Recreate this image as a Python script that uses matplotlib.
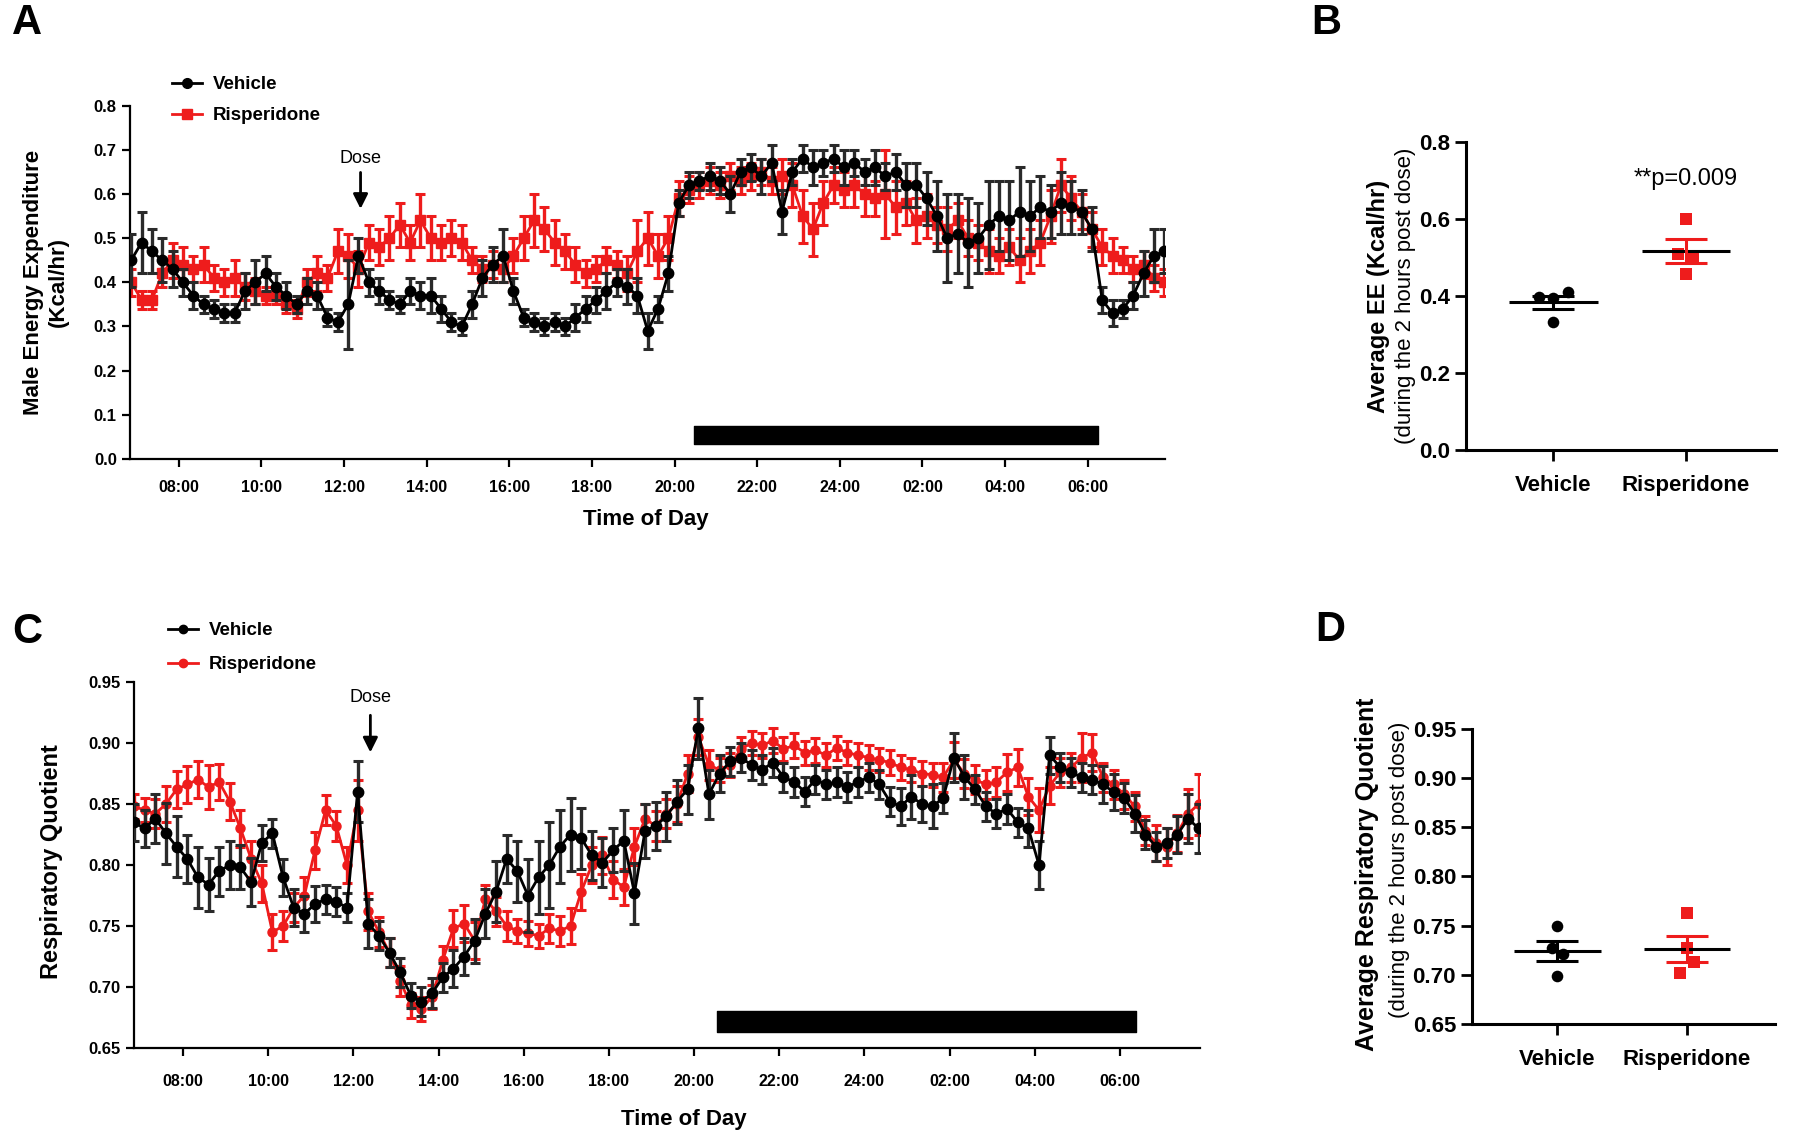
import numpy as np
import matplotlib.pyplot as plt
from matplotlib.lines import Line2D

plt.rcParams['font.family'] = ['Liberation Sans', 'DejaVu Sans']

RED = '#ee1c1c'

# time series: one reading every 15 min, starting 06:51 (hours since midnight of day 1)
t_start = 6.85
t_step = 0.25

ee_vehicle = [0.45, 0.49, 0.47, 0.45, 0.43, 0.40, 0.37, 0.35, 0.34, 0.33,
              0.33, 0.38, 0.40, 0.42, 0.39, 0.37, 0.35, 0.38, 0.37, 0.32,
              0.31, 0.35, 0.46, 0.40, 0.38, 0.36, 0.35, 0.38, 0.37, 0.37,
              0.34, 0.31, 0.30, 0.35, 0.41, 0.44, 0.46, 0.38, 0.32, 0.31,
              0.30, 0.31, 0.30, 0.32, 0.34, 0.36, 0.38, 0.40, 0.39, 0.37,
              0.29, 0.34, 0.42, 0.58, 0.62, 0.63, 0.64, 0.63, 0.60, 0.65,
              0.66, 0.64, 0.67, 0.56, 0.65, 0.68, 0.66, 0.67, 0.68, 0.66,
              0.67, 0.65, 0.66, 0.64, 0.65, 0.62, 0.62, 0.59, 0.55, 0.50,
              0.51, 0.49, 0.50, 0.53, 0.55, 0.54, 0.56, 0.55, 0.57, 0.56,
              0.58, 0.57, 0.56, 0.52, 0.36, 0.33, 0.34, 0.37, 0.42, 0.46,
              0.47]
ee_vehicle_err = [0.06, 0.07, 0.05, 0.05, 0.04, 0.03, 0.03, 0.02, 0.02, 0.02,
                  0.02, 0.04, 0.05, 0.04, 0.03, 0.03, 0.02, 0.03, 0.03, 0.02,
                  0.02, 0.10, 0.04, 0.03, 0.03, 0.02, 0.02, 0.03, 0.03, 0.04,
                  0.03, 0.02, 0.02, 0.03, 0.04, 0.04, 0.06, 0.03, 0.02, 0.02,
                  0.02, 0.02, 0.02, 0.03, 0.03, 0.03, 0.04, 0.03, 0.04, 0.04,
                  0.04, 0.03, 0.04, 0.03, 0.03, 0.02, 0.03, 0.03, 0.04, 0.03,
                  0.03, 0.04, 0.04, 0.05, 0.03, 0.03, 0.04, 0.03, 0.03, 0.04,
                  0.03, 0.03, 0.04, 0.03, 0.04, 0.05, 0.05, 0.06, 0.08, 0.10,
                  0.09, 0.10, 0.08, 0.10, 0.08, 0.09, 0.10, 0.08, 0.07, 0.06,
                  0.07, 0.06, 0.05, 0.05, 0.03, 0.03, 0.02, 0.03, 0.05, 0.06,
                  0.05]
ee_risp = [0.40, 0.36, 0.36, 0.42, 0.45, 0.44, 0.43, 0.44, 0.41, 0.40,
           0.41, 0.39, 0.38, 0.37, 0.37, 0.35, 0.34, 0.40, 0.42, 0.41,
           0.47, 0.46, 0.43, 0.49, 0.48, 0.50, 0.53, 0.49, 0.54, 0.50,
           0.49, 0.50, 0.49, 0.45, 0.43, 0.44, 0.43, 0.46, 0.50, 0.54,
           0.52, 0.49, 0.47, 0.44, 0.42, 0.43, 0.45, 0.44, 0.42, 0.47,
           0.50, 0.46, 0.50, 0.59, 0.61, 0.62, 0.63, 0.62, 0.64, 0.63,
           0.64, 0.65, 0.63, 0.64, 0.62, 0.55, 0.52, 0.58, 0.62, 0.61,
           0.62, 0.60, 0.59, 0.60, 0.57, 0.58, 0.54, 0.55, 0.53, 0.52,
           0.54, 0.50, 0.49, 0.47, 0.46, 0.48, 0.45, 0.47, 0.49, 0.55,
           0.62, 0.59, 0.56, 0.52, 0.48, 0.46, 0.45, 0.43, 0.44, 0.41,
           0.40]
ee_risp_err = [0.03, 0.02, 0.02, 0.03, 0.04, 0.04, 0.03, 0.04, 0.03, 0.03,
               0.04, 0.03, 0.03, 0.02, 0.02, 0.02, 0.02, 0.03, 0.04, 0.03,
               0.05, 0.05, 0.04, 0.04, 0.04, 0.05, 0.05, 0.04, 0.06, 0.05,
               0.04, 0.04, 0.04, 0.03, 0.03, 0.03, 0.03, 0.04, 0.05, 0.06,
               0.05, 0.05, 0.04, 0.04, 0.03, 0.03, 0.03, 0.03, 0.04, 0.07,
               0.06, 0.05, 0.05, 0.04, 0.03, 0.03, 0.03, 0.03, 0.03, 0.03,
               0.03, 0.03, 0.03, 0.04, 0.05, 0.06, 0.06, 0.05, 0.04, 0.04,
               0.05, 0.05, 0.04, 0.10, 0.06, 0.05, 0.05, 0.05, 0.04, 0.05,
               0.04, 0.04, 0.04, 0.05, 0.04, 0.04, 0.05, 0.05, 0.05, 0.06,
               0.06, 0.05, 0.04, 0.04, 0.04, 0.04, 0.03, 0.03, 0.03, 0.03,
               0.03]

rq_vehicle = [0.835, 0.830, 0.838, 0.826, 0.815, 0.805, 0.790, 0.784, 0.795, 0.800,
              0.798, 0.786, 0.818, 0.826, 0.790, 0.765, 0.760, 0.768, 0.772, 0.770,
              0.765, 0.860, 0.752, 0.742, 0.728, 0.712, 0.693, 0.688, 0.695, 0.708,
              0.715, 0.725, 0.738, 0.760, 0.778, 0.805, 0.795, 0.775, 0.790, 0.800,
              0.815, 0.825, 0.822, 0.808, 0.802, 0.812, 0.820, 0.777, 0.828, 0.832,
              0.840, 0.852, 0.862, 0.912, 0.858, 0.875, 0.885, 0.888, 0.882, 0.878,
              0.884, 0.872, 0.868, 0.860, 0.870, 0.866, 0.868, 0.864, 0.868, 0.872,
              0.866, 0.852, 0.848, 0.856, 0.850, 0.848, 0.855, 0.888, 0.872, 0.862,
              0.848, 0.842, 0.846, 0.835, 0.830, 0.800, 0.890, 0.880, 0.876, 0.872,
              0.870, 0.866, 0.860, 0.855, 0.842, 0.825, 0.815, 0.818, 0.825, 0.838,
              0.830]
rq_vehicle_err = [0.015, 0.015, 0.020, 0.025, 0.025, 0.020, 0.025, 0.022, 0.020, 0.020,
                  0.018, 0.020, 0.015, 0.012, 0.015, 0.015, 0.015, 0.015, 0.012, 0.012,
                  0.012, 0.025, 0.020, 0.012, 0.012, 0.012, 0.010, 0.012, 0.012, 0.012,
                  0.015, 0.015, 0.018, 0.020, 0.025, 0.020, 0.025, 0.030, 0.030, 0.035,
                  0.030, 0.030, 0.025, 0.020, 0.020, 0.018, 0.025, 0.025, 0.022, 0.020,
                  0.020, 0.018, 0.020, 0.025, 0.020, 0.015, 0.012, 0.012, 0.012, 0.012,
                  0.012, 0.012, 0.012, 0.012, 0.012, 0.012, 0.012, 0.012, 0.012, 0.012,
                  0.012, 0.012, 0.015, 0.018, 0.015, 0.018, 0.012, 0.020, 0.018, 0.012,
                  0.012, 0.012, 0.012, 0.012, 0.015, 0.020, 0.015, 0.012, 0.012, 0.012,
                  0.012, 0.015, 0.015, 0.012, 0.015, 0.012, 0.012, 0.012, 0.015, 0.020,
                  0.020]
rq_risp = [0.848, 0.845, 0.842, 0.850, 0.862, 0.866, 0.870, 0.864, 0.868, 0.852,
           0.830, 0.805, 0.785, 0.745, 0.750, 0.765, 0.775, 0.812, 0.845, 0.832,
           0.800, 0.845, 0.762, 0.745, 0.728, 0.705, 0.685, 0.682, 0.692, 0.722,
           0.748, 0.752, 0.738, 0.772, 0.762, 0.750, 0.746, 0.744, 0.742, 0.748,
           0.746, 0.750, 0.778, 0.800, 0.808, 0.788, 0.782, 0.815, 0.838, 0.832,
           0.842, 0.850, 0.875, 0.905, 0.882, 0.878, 0.882, 0.895, 0.900, 0.898,
           0.902, 0.895, 0.898, 0.892, 0.894, 0.890, 0.896, 0.892, 0.890, 0.888,
           0.886, 0.884, 0.880, 0.878, 0.875, 0.874, 0.872, 0.886, 0.875, 0.870,
           0.866, 0.868, 0.876, 0.880, 0.856, 0.845, 0.865, 0.876, 0.880, 0.888,
           0.892, 0.872, 0.866, 0.858, 0.848, 0.828, 0.818, 0.815, 0.826, 0.842,
           0.850]
rq_risp_err = [0.010, 0.010, 0.012, 0.015, 0.015, 0.015, 0.015, 0.018, 0.015, 0.015,
               0.015, 0.015, 0.015, 0.015, 0.012, 0.012, 0.015, 0.015, 0.012, 0.012,
               0.015, 0.025, 0.015, 0.012, 0.012, 0.012, 0.010, 0.010, 0.010, 0.012,
               0.015, 0.015, 0.015, 0.012, 0.012, 0.012, 0.010, 0.010, 0.010, 0.012,
               0.012, 0.015, 0.015, 0.015, 0.015, 0.015, 0.015, 0.015, 0.012, 0.012,
               0.012, 0.015, 0.015, 0.015, 0.012, 0.010, 0.010, 0.010, 0.010, 0.010,
               0.010, 0.010, 0.010, 0.010, 0.010, 0.010, 0.010, 0.010, 0.010, 0.010,
               0.010, 0.010, 0.010, 0.010, 0.010, 0.010, 0.012, 0.015, 0.012, 0.012,
               0.012, 0.012, 0.015, 0.015, 0.015, 0.018, 0.015, 0.012, 0.012, 0.020,
               0.015, 0.012, 0.012, 0.012, 0.012, 0.012, 0.015, 0.015, 0.015, 0.020,
               0.025]

tick_hours = [8, 10, 12, 14, 16, 18, 20, 22, 24, 26, 28, 30]
tick_labels = ["08:00", "10:00", "12:00", "14:00", "16:00", "18:00",
               "20:00", "22:00", "24:00", "02:00", "04:00", "06:00"]
dose_time = 12.4
dark_start_a, dark_end_a = 20.47, 30.25
dark_start_c, dark_end_c = 20.54, 30.38

# per-animal averages over the 2 h after dosing
groups = ["Vehicle", "Risperidone"]
b_vehicle = [0.397, 0.394, 0.410, 0.333]
b_risp = [0.601, 0.510, 0.500, 0.456]
d_vehicle = [0.750, 0.727, 0.721, 0.699]
d_risp = [0.763, 0.727, 0.713, 0.702]
b_jitter = [[-0.107, 0.0, 0.107, 0.0], [0.0, -0.056, 0.05, 0.0]]
d_jitter = [[0.0, -0.045, 0.04, 0.0], [0.0, 0.0, 0.055, -0.05]]

fig = plt.figure(figsize=(18, 11.37), dpi=100)


def style_axes(ax, lw=1.6):
    for s in ["top", "right"]:
        ax.spines[s].set_visible(False)
    for s in ["left", "bottom"]:
        ax.spines[s].set_linewidth(lw)


def time_panel(ax, veh, veh_err, risp, risp_err, risp_marker, ms_r, pad):
    times = t_start + t_step * np.arange(len(veh))
    ax.errorbar(times, risp, yerr=risp_err, fmt='-' + risp_marker, color=RED, ecolor=RED,
                ms=ms_r, lw=2.0, elinewidth=2.4, capsize=3.5, capthick=2.2, zorder=2)
    ax.errorbar(times, veh, yerr=veh_err, fmt='-o', color='black', ecolor='#2a2a2a',
                ms=7.5, lw=2.0, elinewidth=2.4, capsize=3.5, capthick=2.2, zorder=3)
    ax.set_xticks(tick_hours)
    ax.set_xticklabels(tick_labels, fontsize=11.5, fontweight='bold')
    ax.tick_params(axis='x', length=6, width=1.6, pad=pad)
    ax.tick_params(axis='y', length=6, width=1.6, labelsize=12)
    style_axes(ax)


# ---- A: energy expenditure time course
axA = fig.add_axes([130 / 1800, 1 - 459 / 1137, 1035 / 1800, 353.4 / 1137])
time_panel(axA, ee_vehicle, ee_vehicle_err, ee_risp, ee_risp_err, 's', 7.5, 9)
axA.set_xlim(6.82, 31.87)
axA.set_ylim(0, 0.8)
axA.set_yticks(np.arange(0, 0.81, 0.1))
axA.set_yticklabels([f"{v:.1f}" for v in np.arange(0, 0.81, 0.1)], fontweight='bold')
axA.broken_barh([(dark_start_a, dark_end_a - dark_start_a)], (0.034, 0.041), color='black')
axA.annotate('', xy=(dose_time, 0.56), xytext=(dose_time, 0.655),
             arrowprops=dict(arrowstyle='-|>', lw=2, color='black', mutation_scale=22))
axA.text(dose_time, 0.68, 'Dose', ha='center', va='center', fontsize=13)

# ---- C: respiratory quotient time course
axC = fig.add_axes([134 / 1800, 1 - 1048 / 1137, 1066 / 1800, 366 / 1137])
time_panel(axC, rq_vehicle, rq_vehicle_err, rq_risp, rq_risp_err, 'o', 6.5, 13)
axC.set_xlim(6.85, 31.88)
axC.set_ylim(0.65, 0.95)
axC.set_yticks(np.arange(0.65, 0.951, 0.05))
axC.set_yticklabels([f"{v:.2f}" for v in np.arange(0.65, 0.951, 0.05)], fontweight='bold')
axC.broken_barh([(dark_start_c, dark_end_c - dark_start_c)], (0.6628, 0.0172), color='black')
axC.annotate('', xy=(dose_time, 0.890), xytext=(dose_time, 0.925),
             arrowprops=dict(arrowstyle='-|>', lw=2, color='black', mutation_scale=22))
axC.text(dose_time, 0.937, 'Dose', ha='center', va='center', fontsize=13)


# ---- B / D: scatter with mean +/- SEM
def dot_panel(ax, veh, risp, jitter):
    for i, (vals, col, mk) in enumerate([(veh, 'black', 'o'), (risp, RED, 's')]):
        vals = np.array(vals)
        ax.scatter(i + np.array(jitter[i]), vals, s=70, marker=mk, color=col, zorder=3,
                   linewidths=0)
        m = vals.mean()
        sem = vals.std(ddof=1) / np.sqrt(len(vals))
        ax.hlines(m, i - 0.335, i + 0.335, color='black', lw=2.2, zorder=4)
        ax.errorbar(i, m, yerr=sem, fmt='none', ecolor=col if i else 'black',
                    elinewidth=2.2, capsize=15, capthick=2.2, zorder=4)
    ax.set_xlim(-0.66, 1.68)
    ax.set_xticks([0, 1])
    ax.set_xticklabels(groups, fontsize=16, fontweight='bold')
    ax.tick_params(axis='x', length=8, width=2, pad=10)
    ax.tick_params(axis='y', length=8, width=2, labelsize=16)
    style_axes(ax, lw=2.2)


axB = fig.add_axes([1466 / 1800, 1 - 450 / 1137, 310 / 1800, 308 / 1137])
dot_panel(axB, b_vehicle, b_risp, b_jitter)
axB.set_ylim(0, 0.8)
axB.set_yticks(np.arange(0, 0.81, 0.2))
axB.set_yticklabels([f"{v:.1f}" for v in np.arange(0, 0.81, 0.2)], fontweight='bold')
axB.text(1, 0.705, '**p=0.009', ha='center', va='center', fontsize=17)

axD = fig.add_axes([1472 / 1800, 1 - 1024 / 1137, 303 / 1800, 295 / 1137])
dot_panel(axD, d_vehicle, d_risp, d_jitter)
axD.set_ylim(0.65, 0.95)
axD.set_yticks(np.arange(0.65, 0.951, 0.05))
axD.set_yticklabels([f"{v:.2f}" for v in np.arange(0.65, 0.951, 0.05)], fontweight='bold')

# ---- labels
fig.text(34 / 1800, 1 - 282 / 1137, 'Male Energy Expenditure', rotation=90,
         ha='center', va='center', fontsize=16, fontweight='bold')
fig.text(58 / 1800, 1 - 282 / 1137, '(Kcal/hr)', rotation=90,
         ha='center', va='center', fontsize=16, fontweight='bold')
fig.text(646 / 1800, 1 - 520 / 1137, 'Time of Day', ha='center', va='center',
         fontsize=16, fontweight='bold')
fig.text(52 / 1800, 1 - 862 / 1137, 'Respiratory Quotient', rotation=90,
         ha='center', va='center', fontsize=17, fontweight='bold')
fig.text(684 / 1800, 1 - 1119 / 1137, 'Time of Day', ha='center', va='center',
         fontsize=16, fontweight='bold')

fig.text(1378 / 1800, 1 - 296 / 1137, 'Average EE (Kcal/hr)', rotation=90,
         ha='center', va='center', fontsize=17, fontweight='bold')
fig.text(1406 / 1800, 1 - 296 / 1137, '(during the 2 hours post dose)', rotation=90,
         ha='center', va='center', fontsize=16)
fig.text(1367 / 1800, 1 - 874 / 1137, 'Average Respiratory Quotient', rotation=90,
         ha='center', va='center', fontsize=18, fontweight='bold')
fig.text(1399 / 1800, 1 - 870 / 1137, '(during the 2 hours post dose)', rotation=90,
         ha='center', va='center', fontsize=16)

for letter, x, y in [('A', 27, 23), ('B', 1326, 23), ('C', 27, 632), ('D', 1330, 630)]:
    fig.text(x / 1800, 1 - y / 1137, letter, ha='center', va='center',
             fontsize=30, fontweight='bold')

# ---- legends
handles_a = [Line2D([], [], color='black', marker='o', ms=7, lw=2),
             Line2D([], [], color=RED, marker='s', ms=7, lw=2)]
fig.legend(handles_a, groups, loc='upper left', bbox_to_anchor=(172 / 1800, 1 - 76 / 1137),
           frameon=False, prop={'size': 13.5, 'weight': 'bold'}, handlelength=1.6,
           handletextpad=0.6, labelspacing=0.75, borderpad=0, borderaxespad=0)
handles_c = [Line2D([], [], color='black', marker='o', ms=6, lw=2),
             Line2D([], [], color=RED, marker='o', ms=6, lw=2)]
fig.legend(handles_c, groups, loc='upper left', bbox_to_anchor=(168 / 1800, 1 - 622 / 1137),
           frameon=False, prop={'size': 13.5, 'weight': 'bold'}, handlelength=1.6,
           handletextpad=0.6, labelspacing=0.9, borderpad=0, borderaxespad=0)

fig.savefig('out.png', dpi=100)
